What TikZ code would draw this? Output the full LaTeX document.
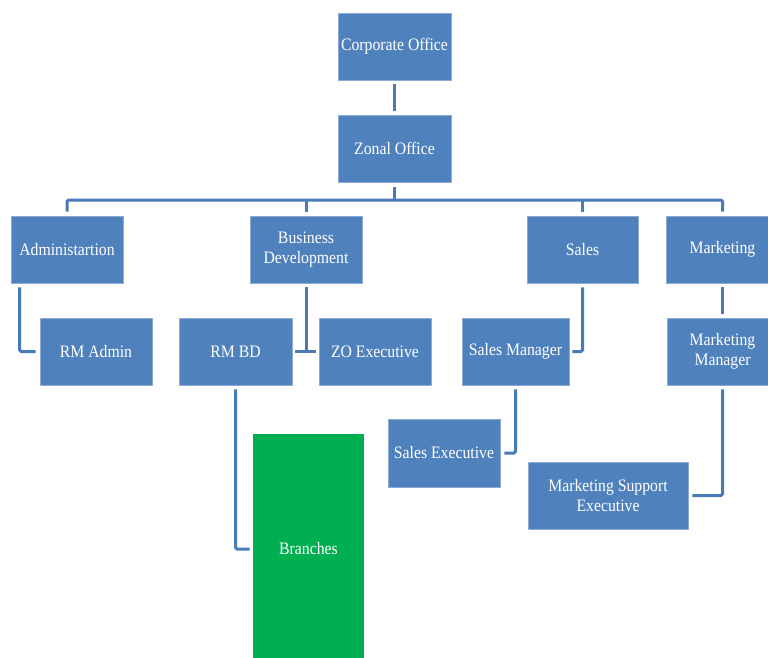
\documentclass[tikz,border=0pt]{standalone}
\usepackage{fontspec}
\setmainfont{Liberation Serif}
\newfontfamily\boxfont[FakeStretch=0.9]{Liberation Serif}
\begin{document}
\begin{tikzpicture}[x=1pt,y=-1pt,
  box/.style={rectangle,fill=boxblue,draw=boxedge,line width=0.6pt,text=white,
    font=\boxfont\fontsize{17.5}{20.5}\selectfont,align=center,inner sep=0pt,
    minimum height=67pt},
  link/.style={draw=lineblue,line width=3pt,rounded corners=1.5pt}]
\definecolor{boxblue}{HTML}{4F81BD}
\definecolor{boxedge}{HTML}{8DAAD6}
\definecolor{lineblue}{HTML}{4A7BB7}
\definecolor{branchgreen}{HTML}{00B050}
\useasboundingbox (0,0) rectangle (768,658);
\clip (0,0) rectangle (768,658);
\node[box,minimum width=113pt] (corp) at (394.5,46.5) {Corporate Office};
\node[box,minimum width=113pt] (zonal) at (394.5,148.5) {Zonal Office};
\node[box,minimum width=112pt] (admin) at (67,249.5) {Administartion};
\node[box,minimum width=112pt] (bd) at (306,249.5) {Business\\Development};
\node[box,minimum width=111pt] (sales) at (582.5,249.5) {Sales};
\node[box,minimum width=112pt] (mkt) at (722.5,249.5) {Marketing};
\node[box,minimum width=112pt] (rmadmin) at (96,351.5) {RM Admin};
\node[box,minimum width=113pt] (rmbd) at (235.5,351.5) {RM BD};
\node[box,minimum width=112pt] (zoexec) at (375,351.5) {ZO Executive};
\node[box,minimum width=107pt] (salesmgr) at (515.5,351.5) {Sales Manager};
\node[box,minimum width=111pt] (mktmgr) at (722.5,351.5) {Marketing\\Manager};
\node[box,minimum width=112pt,minimum height=68pt] (salesexec) at (444,453) {Sales Executive};
\node[box,minimum width=160pt] (mse) at (608,495.5) {Marketing Support\\Executive};
\node[box,fill=branchgreen,draw=none,minimum width=111pt,minimum height=230pt] (branches) at (308.5,549) {Branches};
\coordinate (bus) at (0,200);
\draw[link] ([yshift=-4pt]corp.south) -- ([yshift=4pt]zonal.north);
\draw[link] ([yshift=-5pt]zonal.south) -- (zonal.south |- bus);
\draw[link] ([yshift=4pt]admin.north) |- (mkt.north |- bus) -- ([yshift=4pt]mkt.north);
\draw[link] ([yshift=4pt]bd.north) -- (bd.north |- bus);
\draw[link] ([yshift=4pt]sales.north) -- (sales.north |- bus);
\draw[link] ([xshift=9pt,yshift=-4pt]admin.south west) |- ([xshift=-4pt]rmadmin.west);
\draw[link] ([yshift=-4pt]bd.south) -- (bd.south |- zoexec.west);
\draw[link] ([xshift=3pt]rmbd.east) -- ([xshift=-3pt]zoexec.west);
\draw[link] ([yshift=-4pt]sales.south) |- ([xshift=3pt]salesmgr.east);
\draw[link] ([yshift=-4pt]mkt.south) -- ([yshift=4pt]mktmgr.north);
\draw[link] ([yshift=-4pt]salesmgr.south) |- ([xshift=4pt]salesexec.east);
\draw[link] ([yshift=-4pt]mktmgr.south) |- ([xshift=4pt]mse.east);
\draw[link] ([yshift=-4pt]rmbd.south) |- ([xshift=-3pt]branches.west);
\end{tikzpicture}
\end{document}
